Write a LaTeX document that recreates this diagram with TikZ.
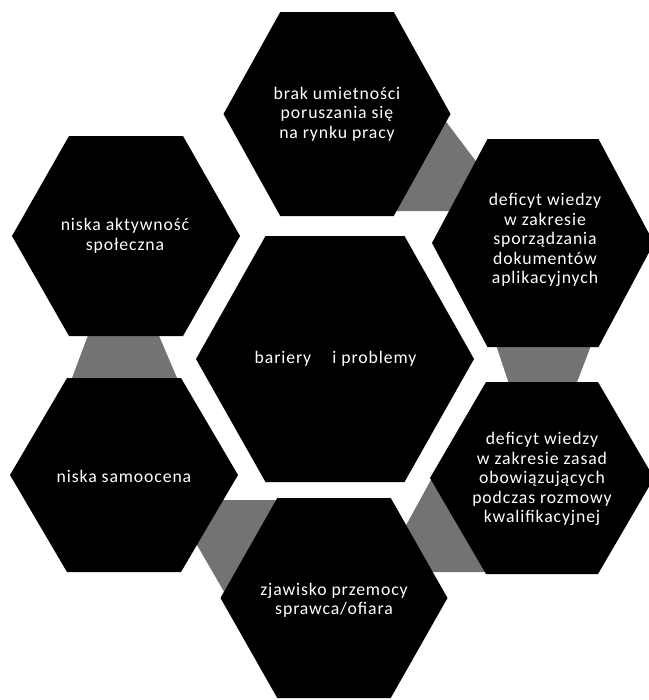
\documentclass[tikz,border=0pt]{standalone}
\usepackage{fontspec}
\setmainfont{Carlito}[LetterSpace=5]
\tikzset{
  hexfill/.style={fill=black},
  linkfill/.style={fill=black!55},
  hextext/.style={text=white, align=center, font=\fontsize{13.3}{14.6}\selectfont, inner sep=0pt}
}
\newcommand\hexshape[4]{%
  \fill[hexfill] (#1-#3,#2) -- (#1-#3/2,#2-#4) -- (#1+#3/2,#2-#4) -- (#1+#3,#2)
    -- (#1+#3/2,#2+#4) -- (#1-#3/2,#2+#4) -- cycle;}
\begin{document}
\begin{tikzpicture}[x=0.75pt,y=-0.75pt]
\useasboundingbox (0,0) rectangle (649,700);
% gray connecting patches
\fill[linkfill] (438,111) -- (484,172) -- (460,211) -- (392,211) -- cycle;
\fill[linkfill] (491,330) -- (597,330) -- (574,390) -- (511,390) -- cycle;
\fill[linkfill] (398,540) -- (432,478) -- (486,572) -- (425,572) -- cycle;
\fill[linkfill] (215,500) -- (285,500) -- (230,602) -- (190,533) -- cycle;
\fill[linkfill] (90,330) -- (156.6,330) -- (180,385) -- (69.4,385) -- cycle;
% hexagons
\hexshape{337}{114}{113.5}{102}
\hexshape{543}{243}{111}{104}
\hexshape{335}{359}{139}{123}
\hexshape{126}{236}{114}{100}
\hexshape{124}{475}{114}{97}
\hexshape{542}{478}{112}{96}
\hexshape{334}{598}{113.5}{100}
% texts
\node[hextext] (T) at (337,114) {brak umietności\\poruszania się\\na rynku pracy};
\node[hextext] (TR) at (545,240) {deficyt wiedzy\\w zakresie\\sporządzania\\dokumentów\\aplikacyjnych};
\node[hextext] (C) at (335.5,359) {bariery\hspace{1.2em}i problemy};
\node[hextext] (TL) at (125,236) {niska aktywność\\społeczna};
\node[hextext] (BL) at (124,476) {niska samoocena};
\node[hextext] (BR) at (542,479) {deficyt wiedzy\\w zakresie zasad\\obowiązujących\\podczas rozmowy\\kwalifikacyjnej};
\node[hextext] (B) at (334,600) {zjawisko przemocy\\sprawca/ofiara};
\end{tikzpicture}
\end{document}
